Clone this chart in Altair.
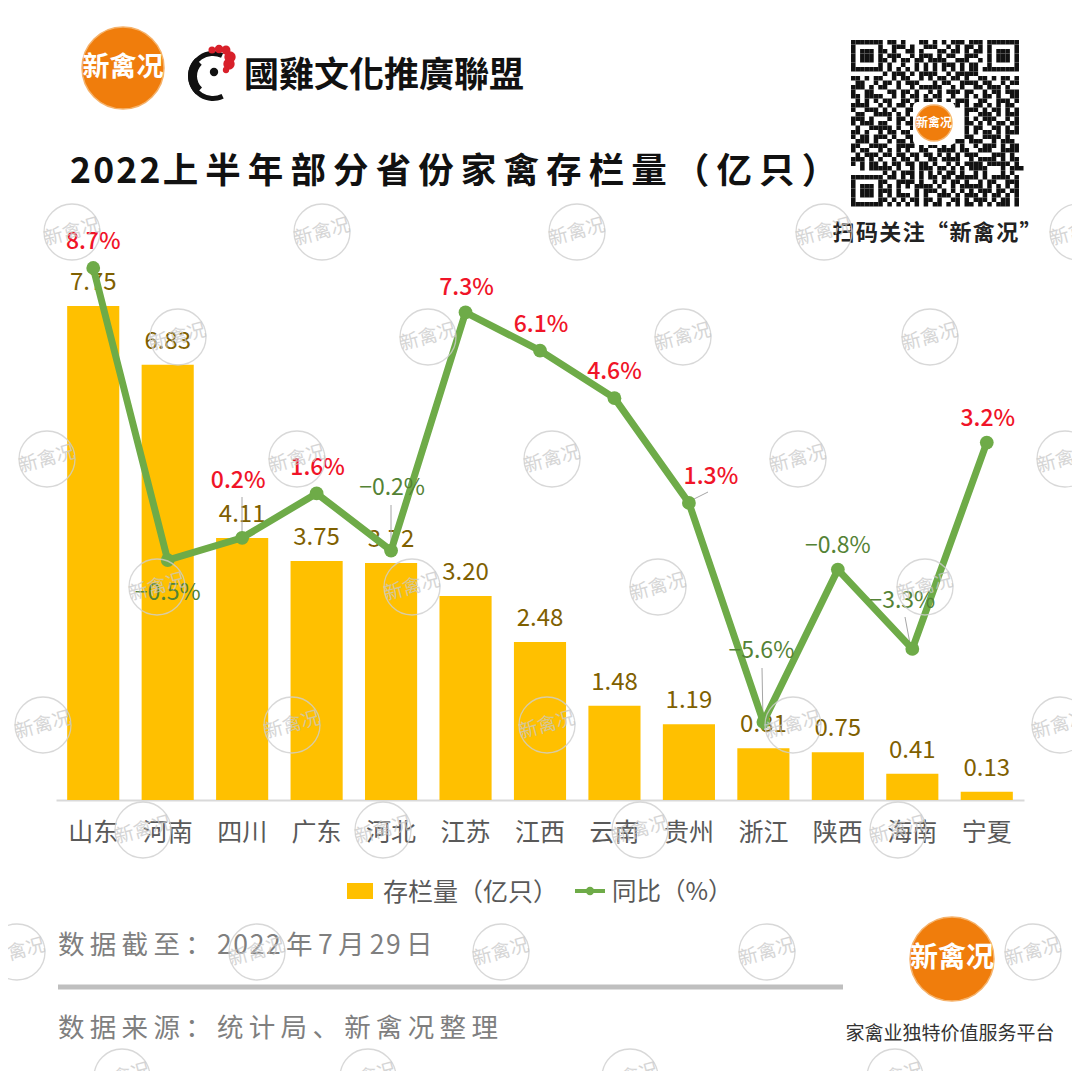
import altair as alt
import pandas as pd

# ---- chart values ----
provinces = ["山东", "河南", "四川", "广东", "河北", "江苏", "江西", "云南", "贵州", "浙江", "陕西", "海南", "宁夏"]
stock = [7.75, 6.83, 4.11, 3.75, 3.72, 3.20, 2.48, 1.48, 1.19, 0.81, 0.75, 0.41, 0.13]
yoy = [8.7, -0.5, 0.2, 1.6, -0.2, 7.3, 6.1, 4.6, 1.3, -5.6, -0.8, -3.3, 3.2]
stock_labels = ["7.75", "6.83", "4.11", "3.75", "3.72", "3.20", "2.48", "1.48", "1.19", "0.81", "0.75", "0.41", "0.13"]
yoy_labels = ["8.7%", "−0.5%", "0.2%", "1.6%", "−0.2%", "7.3%", "6.1%", "4.6%", "1.3%", "−5.6%", "−0.8%", "−3.3%", "3.2%"]
yoy_offsets = [(0, -26), (0, 33), (-4, -57), (1, -25), (1, -63), (1, -24), (1, -26), (0, -26),
               (22, -26), (-2, -71), (0, -24), (-10, -48), (1, -24)]

# ---- decoration (page coordinates) ----
wm_x = [72, 322, 577, 824, 1078, 178, 428, 683, 930, 47, 297, 552, 798, 1065, 157, 412, 658, 925,
        43, 292, 547, 793, 1060, 143, 383, 640, 898, 17, 257, 501, 767, 1033, 122, 368, 630, 895]
wm_y = [232, 232, 232, 232, 232, 337, 337, 337, 337, 459, 459, 459, 459, 459, 587, 587, 587, 587,
        725, 725, 725, 725, 725, 830, 830, 830, 830, 952, 952, 952, 952, 952, 1077, 1077, 1077, 1077]
leaders = [(242, 497, 242, 538), (391, 505, 391, 551), (708, 492, 688, 502), (762, 668, 763, 722), (905, 617, 911, 649)]
qr_rows = [
    "####### .##.# ...## .#.#. ###.# ##. #######",
    "#.....# ..### .#..# ##..# .#.## .#. #.....#",
    "#.###.# #.#.. ##.#. ..##. ##.#. ##. #.###.#",
    "#.###.# .###. .#.## #.#.# #..## #.. #.###.#",
    "#.###.# #.#.# #.##. ####. .###. .#. #.###.#",
    "#.....# .#..# ..#.# .#.## #.#.# #.. #.....#",
    "####### .#.#. #.#.# .#.#. #.#.# #.# #######",
    "....... #.### .#.## ##..# .#### #.. .......",
    "##.#.## ..#.# #..#. #.##. ##.#. .## .#.##.#",
    ".##..#. ##.#. ###.. .#.## ..### #.# #..#.##",
    "###.#.# #..#. .#.## ###.. #.#.. ##. ###.#..",
    "#..##.. .##.# #.#.. #.#.# ##.## ..# .##.###",
    "##.#### ..#.# .##.# .##.. #..#. #.# #.#..##",
    ".#.#.#. ##..# #.#.# #.#.# .###. .## ..###.#",
    "####..# .#.## .#### .#### ##.#. ##. #.#.##.",
    "#..###. #.#.. ##... ..... ...## #.# .##.#.#",
    ".##..## ##.#. #.... ..... ...#. .## #.#.###",
    "###.#.. .#.## .#... ..... ...#. #.# ##..#.#",
    "#.###.# #..#. ##... ..... ...## .#. #.##.##",
    ".#..### ##.#. .#... ..... ...#. ##. .##.#.#",
    "##.#..# .##.# #.... ..... ...#. #.# #.#.###",
    "#.##.## #.#.. ##... ..... ...## ..# ###.#..",
    ".###.#. .#.## .#.## .#.## .##.# ##. .#.###.",
    "##..### #..## ##.#. ##.#. #.#.. #.# ##.#.##",
    "#.##..# .#.#. #..## ..### #.##. .## #..####",
    ".#.###. ##.## .##.# #.#.# .#.## #.. .###.#.",
    "###.#.# ..#.# #.#.. ##.## ##..# .## ##.#.##",
    "#.#.##. #.##. ##.## .#..# .#.## ##. #####.#",
    "..#.### ##.#. .#.## #.##. #.#.# ###...#.###",
    "....... #.#.# ##.#. #.#.# #.#.. #.# ...#.#.",
    "####### .##.# .#.#. ##.## .#### #.#.# ###.#",
    "#.....# #..## ##.#. .#.#. ##.#. .#.## ..###",
    "#.###.# .#.#. #.### #.#.. #.### ##.#. #.#.#",
    "#.###.# ##.#. ..#.# ##.#. #.#.# .###. ##.##",
    "#.###.# .#.## #.#.# ..### .#.## #.#.# #.#.#",
    "#.....# #.#.# .##.# #.#.. ##.#. ###.# .##.#",
    "####### .#.#. #.#.# .##.# .#.## .#.#. ###.#",
]

page_x = alt.Scale(domain=[8, 1072], range=[0, 1064])
page_y = alt.Scale(domain=[8, 1071], range=[0, 1063])
PX = lambda f="x": alt.X(f"{f}:Q", scale=page_x, axis=None)
PY = lambda f="y": alt.Y(f"{f}:Q", scale=page_y, axis=None)
band = alt.Scale(domain=provinces, range=[48, 1016], paddingInner=0.3, paddingOuter=0.15)
y_bar = alt.Scale(domain=[0, 7.75], range=[792, 298])
y_line = alt.Scale(domain=[-5.6, 8.7], range=[714, 260])
BX = alt.X("province:N", sort=provinces, scale=band, axis=None)

FONT = "Noto Sans CJK SC"
THIN = "\u2009"
HAIR = "\u200a"


def spaced(s, gap=THIN):
    return gap.join(s)


df = pd.DataFrame({"province": provinces, "stock": stock, "yoy": yoy,
                   "stock_label": stock_labels, "yoy_label": yoy_labels})


def page_text(text, x, y, size, color, align="left", weight="normal", font=FONT):
    return alt.Chart(pd.DataFrame({"x": [x], "y": [y], "t": [text]})).mark_text(
        fontSize=size, color=color, align=align, baseline="middle", fontWeight=weight, font=font
    ).encode(x=PX(), y=PY(), text="t:N")


def logo(cx, cy, r, size):
    d = pd.DataFrame({"x": [cx], "y": [cy]})
    return [
        alt.Chart(d).mark_circle(size=(2 * r) ** 2, color="#F07D0C", opacity=1, stroke="#F5B26B", strokeWidth=1.5)
        .encode(x=PX(), y=PY()),
        page_text("新禽况", cx, cy, size, "#FFFFFF", align="center", weight="bold"),
    ]


layers = []

# bars with the category axis
layers.append(
    alt.Chart(df).mark_bar(color="#FFC000").encode(
        x=alt.X("province:N", sort=provinces, scale=band, title=None,
                axis=alt.Axis(offset=-271, labelAngle=0, ticks=False, grid=False, domainColor="#D9D9D9",
                              domainWidth=2, labelFontSize=25, labelColor="#595959", labelFont=FONT,
                              labelPadding=32, labelBaseline="middle", labelOverlap=False)),
        y=alt.Y("stock:Q", scale=y_bar, axis=None),
    )
)
layers.append(
    alt.Chart(df).mark_text(fontSize=24, color="#7F6000", dy=-23, baseline="middle", font=FONT).encode(
        x=BX, y=alt.Y("stock:Q", scale=y_bar, axis=None), text="stock_label:N")
)

# leader lines
ld = pd.DataFrame(leaders, columns=["x", "y", "x2", "y2"])
layers.append(
    alt.Chart(ld).mark_rule(color="#A6A6A6", strokeWidth=1).encode(x=PX(), y=PY(), x2="x2:Q", y2="y2:Q")
)

# year-on-year line
layers.append(
    alt.Chart(df).mark_line(color="#6EAB48", strokeWidth=7, point=alt.OverlayMarkDef(size=190, color="#6EAB48", opacity=1)).encode(
        x=BX, y=alt.Y("yoy:Q", scale=y_line, axis=None))
)
for i, (lab, (dx, dy)) in enumerate(zip(yoy_labels, yoy_offsets)):
    color = "#548235" if yoy[i] < 0 else "#F01428"
    layers.append(
        alt.Chart(df.iloc[[i]]).mark_text(fontSize=23, color=color, dx=dx, dy=dy, baseline="middle", font=FONT,
                                          fontWeight="normal" if yoy[i] < 0 else 500).encode(
            x=BX, y=alt.Y("yoy:Q", scale=y_line, axis=None), text="yoy_label:N")
    )

# headings
layers.append(page_text(spaced("2022", HAIR) + HAIR + spaced("上半年部分省份家禽存栏量（亿只）"), 70, 172, 35.5, "#111111", weight="bold"))
layers += logo(123, 68, 41, 27)

# rooster emblem
emb = pd.DataFrame({"x": [213], "y": [76]})
layers.append(alt.Chart(emb).mark_arc(radius=25, radius2=20, theta=2.7, theta2=6.7, color="#111111").encode(x=PX(), y=PY()))
layers.append(alt.Chart(emb).mark_arc(radius=25, radius2=16, theta=3.9, theta2=5.5, color="#111111").encode(x=PX(), y=PY()))
layers.append(alt.Chart(pd.DataFrame({"x": [214], "y": [72]})).mark_circle(size=70, color="#111111", opacity=1).encode(x=PX(), y=PY()))
comb = pd.DataFrame({"x": [212, 219, 226, 230, 229, 226], "y": [50, 49, 50, 57, 64, 70], "s": [50, 70, 80, 130, 130, 40]})
layers.append(alt.Chart(comb).mark_circle(color="#D8202A", opacity=1).encode(
    x=PX(), y=PY(), size=alt.Size("s:Q", scale=None)))
layers.append(page_text("國雞文化推廣聯盟", 244, 76, 35, "#111111", weight="bold", font="Noto Sans CJK TC"))

# QR code
qr = []
for r, row in enumerate(qr_rows):
    for c, ch in enumerate(row.replace(" ", "")):
        if ch == "#":
            qr.append({"x": 851 + c * 4.54, "x2": 851 + (c + 1) * 4.54, "y": 40 + r * 4.5, "y2": 40 + (r + 1) * 4.5})
layers.append(alt.Chart(pd.DataFrame(qr)).mark_rect(color="#111111").encode(x=PX(), x2="x2:Q", y=PY(), y2="y2:Q"))
layers.append(alt.Chart(pd.DataFrame({"x": [913], "x2": [955], "y": [102], "y2": [145]})).mark_rect(color="#FFFFFF", cornerRadius=5)
              .encode(x=PX(), x2="x2:Q", y=PY(), y2="y2:Q"))
layers += logo(934, 123, 18, 12)
layers.append(page_text(spaced("扫码关注“新禽况”", HAIR), 937, 233, 22, "#222222", align="center", weight="bold"))

# manual legend
layers.append(alt.Chart(pd.DataFrame({"x": [347], "x2": [373], "y": [883], "y2": [899]})).mark_rect(color="#FFC000")
              .encode(x=PX(), x2="x2:Q", y=PY(), y2="y2:Q"))
layers.append(page_text("存栏量（亿只）", 383, 893, 25, "#595959"))
layers.append(alt.Chart(pd.DataFrame({"x": [575], "x2": [605], "y": [891]})).mark_rule(color="#6EAB48", strokeWidth=4)
              .encode(x=PX(), x2="x2:Q", y=PY()))
layers.append(alt.Chart(pd.DataFrame({"x": [590], "y": [891]})).mark_circle(size=70, color="#6EAB48", opacity=1).encode(x=PX(), y=PY()))
layers.append(page_text("同比（%）", 612, 893, 24.5, "#595959"))

# footer
date_text = (spaced("数据截至：") + THIN + spaced("2022", HAIR) + THIN + "年" + THIN + "7" + THIN + "月" + THIN
             + spaced("29", HAIR) + THIN + "日")
layers.append(page_text(date_text, 58, 946, 26.5, "#7F7F7F"))
layers.append(alt.Chart(pd.DataFrame({"x": [58], "x2": [843], "y": [987]})).mark_rule(color="#BFBFBF", strokeWidth=5)
              .encode(x=PX(), x2="x2:Q", y=PY()))
layers.append(page_text(spaced("数据来源：统计局、新禽况整理"), 58, 1029, 26.5, "#7F7F7F"))
layers += logo(952, 959, 42, 28)
layers.append(page_text("家禽业独特价值服务平台", 950, 1034, 19, "#333333", align="center"))

# watermark stamps
wm = pd.DataFrame({"x": wm_x, "y": wm_y, "t": ["新禽况"] * len(wm_x)})
layers.append(alt.Chart(wm).mark_point(shape="circle", size=3136, color="#CFCFCF", strokeWidth=1.3, filled=False, opacity=0.8)
              .encode(x=PX(), y=PY()))
layers.append(alt.Chart(wm).mark_text(fontSize=19, color="#C8C8C8", angle=345, baseline="middle", font=FONT, opacity=0.75)
              .encode(x=PX(), y=PY(), text="t:N"))

chart = alt.layer(*layers).resolve_scale(x="independent", y="independent").properties(
    width=1064, height=1063, padding=0, autosize=alt.AutoSizeParams(type="none"), background="#FFFFFF"
).configure_view(stroke=None)

chart.save("out.html", embed_options={"renderer": "svg", "actions": False})
